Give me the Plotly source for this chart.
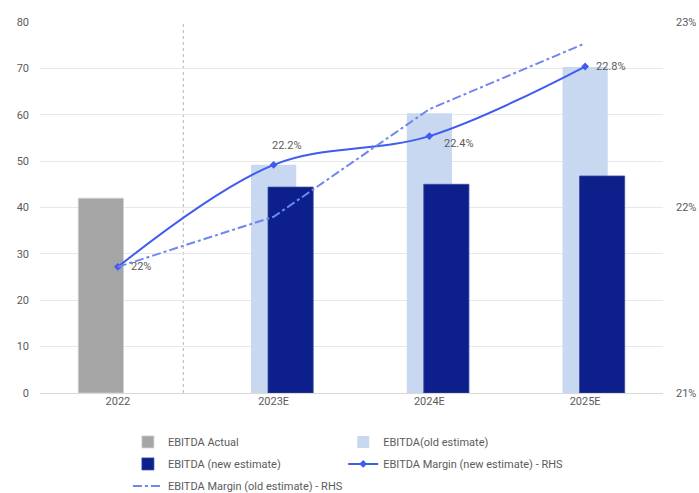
import plotly.graph_objects as go

categories = ["2022", "2023E", "2024E", "2025E"]
actual_x = ["2022"]
actual_vals = [42.0]
est_x = ["2023E", "2024E", "2025E"]
old_est_vals = [49.2, 60.3, 70.3]
new_est_vals = [44.4, 45.0, 46.8]
margin_new = [21.68, 22.23, 22.385, 22.76]
margin_old = [21.68, 21.95, 22.53, 22.885]
margin_new_labels = ["22%", "22.2%", "22.4%", "22.8%"]
rhs_ticks = [21, 22, 23]

FONT = "Roboto"
TXT = "#5b5b5b"
BW = 0.29

fig = go.Figure()
fig.add_trace(go.Bar(x=actual_x, y=actual_vals, name="EBITDA Actual",
                     marker=dict(color="#a5a5a5", line=dict(color="#d0d0d0", width=0.8)),
                     width=BW, offset=-0.254, legend="legend", legendgroup="a"))
fig.add_trace(go.Bar(x=est_x, y=old_est_vals, name="EBITDA(old estimate)",
                     marker=dict(color="#c9d8f1", line=dict(width=0)),
                     width=BW, offset=-0.145, legend="legend2", legendgroup="b"))
fig.add_trace(go.Bar(x=est_x, y=new_est_vals, name="EBITDA (new estimate)",
                     marker=dict(color="#0c1f8a", line=dict(color="#3a4aa0", width=0.8)),
                     width=BW, offset=-0.036, legend="legend", legendgroup="c"))
fig.add_trace(go.Scatter(x=categories, y=margin_new, name="EBITDA Margin (new estimate) - RHS",
                         yaxis="y2", mode="lines+markers",
                         line=dict(color="#3f5cef", width=2, shape="spline", smoothing=1.0),
                         marker=dict(symbol="diamond", size=6, color="#3f5cef"),
                         legend="legend2", legendgroup="d"))
fig.add_trace(go.Scatter(x=categories, y=margin_old, name="EBITDA Margin (old estimate) - RHS",
                         yaxis="y2", mode="lines",
                         line=dict(color="#6f86ef", width=2, dash="dashdot"),
                         legend="legend", legendgroup="e"))

shifts = [(11, 0, "left"), (13, 19, "center"), (13, -7, "left"), (9, 0, "left")]
for i, (v, t, (xs, ys, al)) in enumerate(zip(margin_new, margin_new_labels, shifts)):
    fig.add_annotation(x=i, y=v, xref="x", yref="y2", text=t, showarrow=False,
                       xshift=xs, yshift=ys, xanchor=al, yanchor="middle",
                       font=dict(family=FONT, size=11, color=TXT))

fig.add_shape(type="line", xref="x", yref="paper", x0=0.42, x1=0.42, y0=0, y1=1,
              line=dict(color="#b5b5b5", width=1, dash="dot"), layer="below")

legend_common = dict(orientation="v", yanchor="top", xanchor="left",
                     xref="container", yref="container",
                     font=dict(family=FONT, size=11, color=TXT),
                     bgcolor="rgba(0,0,0,0)", tracegroupgap=3, itemwidth=30)

fig.update_layout(
    width=699, height=493,
    margin=dict(l=40, r=36, t=22, b=100, autoexpand=False),
    paper_bgcolor="white", plot_bgcolor="white",
    font=dict(family=FONT, size=11, color=TXT),
    barmode="overlay",
    xaxis=dict(type="category", categoryorder="array", categoryarray=categories,
               range=[-0.5, 3.5], showgrid=False, ticks="", showline=False,
               tickfont=dict(family=FONT, size=11, color=TXT)),
    yaxis=dict(range=[0, 80], dtick=10, showgrid=True, gridcolor="#e8e8e8", gridwidth=1,
               zeroline=True, zerolinecolor="#d9d9d9", zerolinewidth=1,
               ticks="", ticklabelstandoff=10,
               tickfont=dict(family=FONT, size=11, color=TXT)),
    yaxis2=dict(overlaying="y", side="right", range=[21, 23], tickmode="array",
                tickvals=rhs_ticks, ticktext=[f"{v}%" for v in rhs_ticks],
                showgrid=False, zeroline=False, ticks="",
                ticklabelstandoff=12, automargin=False,
                tickfont=dict(family=FONT, size=11, color=TXT)),
    legend=dict(legend_common, x=0.183, y=0.133),
    legend2=dict(legend_common, x=0.491, y=0.133),
)

fig.write_html("out.html")
